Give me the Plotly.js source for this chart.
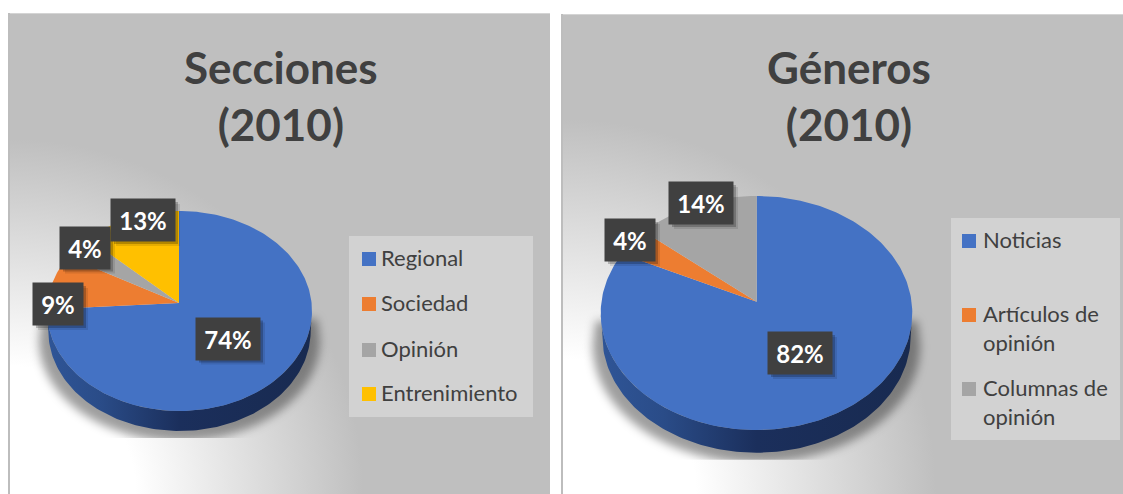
<!DOCTYPE html>
<html><head><meta charset="utf-8">
<script src="https://cdn.plot.ly/plotly-3.0.1.min.js"></script>
<style>html,body{margin:0;padding:0;background:#fff;overflow:hidden}#c{width:1123px;height:494px}</style>
</head><body><div id="c"></div>
<script>
const seccionesCategories = ['Regional','Sociedad','Opinión','Entrenimiento'];
const seccionesValues = [74, 9, 4, 13];
const generosCategories = ['Noticias','Artículos de<br>opinión','Columnas de<br>opinión'];
const generosValues = [82, 4, 14];
const sliceColors = ['#4472c4','#ed7d31','#a5a5a5','#ffc000'];
const FONT = 'Lato, Carlito, sans-serif';
const INK = '#404040';

const W = 1123, H = 494;
const charts = [
  { title:'Secciones<br>(2010)', titleX:281, titleY:95.5, cats:seccionesCategories, vals:seccionesValues,
    ax:179, ay:303, cx:179.5, cy:311, rx:132.5, ry:100, depth:20,
    labels:[[228,338.5,64],[58,304,50],[85,247.5,50],[143,220,64]],
    box:[349,236,533,417], swY:[259,304,350,394], swX:369, txX:380 },
  { title:'Géneros<br>(2010)', titleX:849, titleY:95.5, cats:generosCategories, vals:generosValues,
    ax:756.7, ay:301.7, cx:756.5, cy:313, rx:155.8, ry:117, depth:22.7,
    labels:[[800,353,64],[630,240,50],[701,203,64]],
    box:[951,218,1120,440], swY:[241,315,389], swX:969, txX:982 }
];

function rim(c, frac){
  // ray from the apex to the tilted rim, for a cumulative fraction of the pie
  const t = frac*2*Math.PI;
  const dx = Math.sin(t)*c.rx, dy = -Math.cos(t)*c.ry;
  const ox = (c.ax-c.cx)/c.rx, oy = (c.ay-c.cy)/c.ry, px = dx/c.rx, py = dy/c.ry;
  const a = px*px+py*py, b = 2*(ox*px+oy*py), d = ox*ox+oy*oy-1;
  const s = (-b+Math.sqrt(b*b-4*a*d))/(2*a);
  return [c.ax+dx*s, c.ay+dy*s];
}

const traces = [], shapes = [], annotations = [];
charts.forEach(c => {
  // side wall of the disc
  const wx = [], wy = [];
  for(let i=0;i<=120;i++){ const a=Math.PI*i/120; wx.push(c.cx+c.rx*Math.cos(a)); wy.push(c.cy+c.ry*Math.sin(a)); }
  for(let i=120;i>=0;i--){ const a=Math.PI*i/120; wx.push(c.cx+c.rx*Math.cos(a)*0.99); wy.push(c.cy+c.depth+c.ry*Math.sin(a)); }
  traces.push({x:wx,y:wy,mode:'lines',line:{width:0},fill:'toself',hoverinfo:'skip',showlegend:false,
    fillgradient:{type:'horizontal',colorscale:[[0,'#2f5597'],[0.2,'#2a4c88'],[0.5,'#1b2f5c'],[1,'#182a50']]}});
  // slices
  const total = c.vals.reduce((a,b)=>a+b,0);
  let run = 0;
  c.vals.forEach((v,i)=>{
    const xs=[c.ax], ys=[c.ay], n=Math.max(4,Math.round(v*3));
    for(let k=0;k<=n;k++){ const p=rim(c,(run+v*k/n)/total); xs.push(p[0]); ys.push(p[1]); }
    xs.push(c.ax); ys.push(c.ay);
    traces.push({x:xs,y:ys,mode:'lines',line:{width:0},fill:'toself',fillcolor:sliceColors[i],
      name:c.cats[i].replace('<br>',' '),text:v+'%',hoverinfo:'name+text',showlegend:false});
    run+=v;
    // data label
    const [lx,ly,lw]=c.labels[i];
    shapes.push({type:'rect',x0:lx-lw/2+5,x1:lx+lw/2+5,y0:ly-21+5,y1:ly+21+5,fillcolor:'rgba(0,0,0,0.10)',line:{width:0}});
    shapes.push({type:'rect',x0:lx-lw/2+3,x1:lx+lw/2+3,y0:ly-21+3,y1:ly+21+3,fillcolor:'rgba(0,0,0,0.22)',line:{width:0}});
    annotations.push({x:lx,y:ly,xref:'x',yref:'y',text:'<b>'+Math.round(v/total*100)+'%</b>',showarrow:false,
      width:lw,height:42,borderpad:0,bgcolor:'#404040',font:{family:FONT,size:24,color:'#fff'},align:'center',valign:'middle'});
    // legend entry
    shapes.push({type:'rect',x0:c.swX-7,x1:c.swX+7,y0:c.swY[i]-7,y1:c.swY[i]+7,fillcolor:sliceColors[i],line:{width:0}});
    annotations.push({x:c.txX,y:c.swY[i]-16,xref:'x',yref:'y',xanchor:'left',yanchor:'top',text:c.cats[i],showarrow:false,
      align:'left',borderpad:0,font:{family:FONT,size:22,color:INK}});
  });
  shapes.unshift({type:'rect',x0:c.box[0],y0:c.box[1],x1:c.box[2],y1:c.box[3],fillcolor:'#d2d2d2',line:{width:0},layer:'below'});
  annotations.push({x:c.titleX,y:c.titleY,xref:'x',yref:'y',text:'<b>'+c.title+'</b>',showarrow:false,
    font:{family:FONT,size:44,color:INK},align:'center'});
});

function shadow(c){
  const top=c.cy, bot=c.cy+c.depth+c.ry+7;
  return `<g clip-path="url(#cl${c.ax|0})"><path filter="url(#bl)" fill="#000" fill-opacity=".38" d="M${c.cx-c.rx-5} ${top+8} L${c.cx+c.rx+5} ${top+8} L${c.cx+c.rx+8} ${top+c.depth+10} A${c.rx+8} ${c.ry} 0 0 1 ${c.cx-c.rx-8} ${top+c.depth+10} Z"/></g>
  <clipPath id="cl${c.ax|0}"><rect x="0" y="0" width="${W}" height="${bot}"/></clipPath>`;
}
const bg = `<svg xmlns="http://www.w3.org/2000/svg" width="${W}" height="${H}" viewBox="0 0 ${W} ${H}">
<defs>
<radialGradient id="g1" gradientUnits="userSpaceOnUse" cx="8" cy="494" r="355"><stop offset="0.36" stop-color="#fff"/><stop offset="1" stop-color="#bfbfbf"/></radialGradient>
<radialGradient id="g2" gradientUnits="userSpaceOnUse" cx="561" cy="494" r="375"><stop offset="0.36" stop-color="#fff"/><stop offset="1" stop-color="#bfbfbf"/></radialGradient>
<filter id="bl" x="-20%" y="-20%" width="140%" height="140%"><feGaussianBlur stdDeviation="5"/></filter>
</defs>
<rect x="8" y="13" width="542" height="481" fill="url(#g1)"/>
<rect x="8" y="13" width="542" height="1" fill="#d4d4d4"/>
<rect x="8" y="13" width="2" height="481" fill="#bdbdbd"/>
<rect x="561" y="14" width="562" height="480" fill="url(#g2)"/>
<rect x="561" y="14" width="562" height="1" fill="#d4d4d4"/>
<rect x="561" y="14" width="2" height="480" fill="#bdbdbd"/>
${shadow(charts[0])}${shadow(charts[1])}
</svg>`;

const layout = {
  width:W, height:H, margin:{l:0,r:0,t:0,b:0}, showlegend:false,
  paper_bgcolor:'rgba(0,0,0,0)', plot_bgcolor:'rgba(0,0,0,0)',
  xaxis:{range:[0,W],visible:false,fixedrange:true},
  yaxis:{range:[H,0],visible:false,fixedrange:true},
  images:[{source:'data:image/svg+xml;charset=utf-8,'+encodeURIComponent(bg),xref:'paper',yref:'paper',x:0,y:1,sizex:1,sizey:1,xanchor:'left',yanchor:'top',sizing:'stretch',layer:'below'}],
  shapes, annotations
};
Plotly.newPlot('c',traces,layout,{displayModeBar:false});
</script></body></html>
